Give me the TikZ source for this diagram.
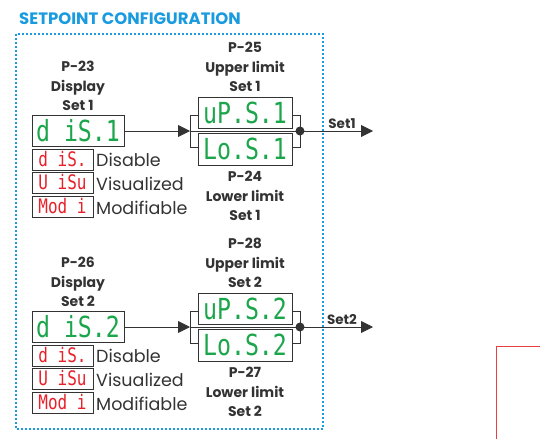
\documentclass[tikz,border=0pt]{standalone}
\usepackage{fontspec}
\setmainfont{Poppins}
\newfontfamily\segfont[FakeStretch=0.8]{DejaVu Sans Mono}
\usetikzlibrary{arrows.meta,calc}
\definecolor{cfgblue}{HTML}{1A9BE0}
\definecolor{ledgreen}{HTML}{1CA64B}
\definecolor{ledred}{HTML}{E8202A}
\definecolor{ink}{HTML}{333333}
\definecolor{framered}{HTML}{E84040}
\begin{document}
\begin{tikzpicture}[x=1pt,y=-1pt,
  disp/.style={draw=ink, line width=0.9pt, fill=white, minimum width=92pt, minimum height=31pt, inner sep=0pt, text=ledgreen, font=\segfont\fontsize{29}{29}\selectfont},
  rdisp/.style={draw=ink, line width=0.9pt, fill=white, minimum width=61pt, minimum height=21pt, inner sep=0pt, text=ledred, font=\segfont\fontsize{20}{20}\selectfont},
  lbl/.style={align=center, text=ink, inner sep=0pt, font=\bfseries\fontsize{14}{19.5}\selectfont},
  opt/.style={anchor=west, text=ink, inner sep=0pt, font=\fontsize{17.5}{17.5}\selectfont},
  wire/.style={draw=ink, line width=0.9pt},
  arr/.style={wire, -{Triangle[length=12pt,width=12pt]}}
]
\useasboundingbox (0,0) rectangle (540,439);
% title and frame
\node[anchor=west, inner sep=0pt, text=cfgblue, font=\bfseries\fontsize{16.5}{16.5}\selectfont] (title) at (19,19) {SETPOINT CONFIGURATION};
\draw[cfgblue, line width=2pt, dash pattern=on 2pt off 2pt] (16,34) rectangle (323,429);
% red partial frame
\draw[framered, line width=1pt] (496,439) -- (496,346) -- (540,346);

\foreach \g/\dy/\pd/\pu/\pl in {1/0/23/25/24, 2/196/26/28/27} {
  % display set
  \node[lbl] (pd\g) at (78,86+\dy) {P-\pd\\Display\\Set \g};
  \node[disp] (d\g) at (78,130.5+\dy) {d iS.\g};
  \node[rdisp] (r\g a) at (62.5,159.5+\dy) {d iS.};
  \node[rdisp] (r\g b) at (62.5,182.5+\dy) {U iSu};
  \node[rdisp] (r\g c) at (62.5,206.5+\dy) {Mod i};
  \node[opt] (o\g a) at (96,160+\dy) {Disable};
  \node[opt] (o\g b) at (96,184+\dy) {Visualized};
  \node[opt] (o\g c) at (96,208+\dy) {Modifiable};
  % limits
  \node[lbl] (pu\g) at (245,67+\dy) {P-\pu\\Upper limit\\Set \g};
  \node[disp, minimum width=94pt] (u\g) at (245,112.5+\dy) {uP.S.\g};
  \node[disp, minimum width=94pt, minimum height=32pt] (l\g) at (245,149+\dy) {Lo.S.\g};
  \node[lbl] (pl\g) at (245,196+\dy) {P-\pl\\Lower limit\\Set \g};
  % junctions
  \coordinate (j\g) at (190,131+\dy);
  \coordinate (j\g t) at (190,115+\dy);
  \coordinate (j\g b) at (190,147+\dy);
  \coordinate (k\g) at (300,131+\dy);
  \coordinate (k\g t) at (300,115+\dy);
  \coordinate (k\g b) at (300,147+\dy);
  \coordinate (e\g) at (373,131+\dy);
  \draw[arr] (d\g.east |- j\g) -- (j\g);
  \draw[wire] (j\g t -| u\g.west) -- (j\g t) -- (j\g b) -- (j\g b -| l\g.west);
  \draw[wire] (k\g t -| u\g.east) -- (k\g t) -- (k\g b) -- (k\g b -| l\g.east);
  \draw[wire] (j\g) -- (k\g);
  \fill[ink] (k\g) circle (4.5pt);
  \draw[arr] (k\g) -- (e\g);
  \node[inner sep=0pt, text=ink, font=\bfseries\fontsize{13.5}{13.5}\selectfont] (s\g) at (342,124+\dy) {Set\g};
}
\end{tikzpicture}
\end{document}
